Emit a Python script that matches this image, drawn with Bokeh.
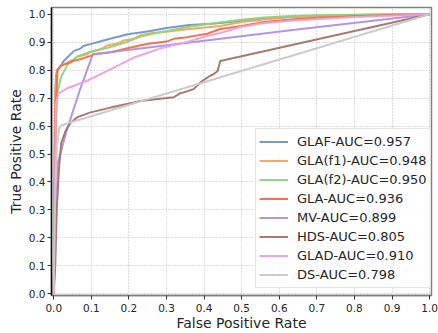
from bokeh.plotting import figure
from bokeh.models import Range1d, FixedTicker, Legend, LegendItem
from bokeh.embed import file_html
from bokeh.resources import INLINE

# ---- data ----
names = ["GLAF-AUC=0.957", "GLA(f1)-AUC=0.948", "GLA(f2)-AUC=0.950", "GLA-AUC=0.936",
         "MV-AUC=0.899", "HDS-AUC=0.805", "GLAD-AUC=0.910", "DS-AUC=0.798"]

fpr_glaf = [0, 0.002, 0.004, 0.006, 0.01, 0.018, 0.027, 0.036, 0.054, 0.072, 0.08, 0.10, 0.125,
            0.16, 0.2, 0.231, 0.257, 0.3, 0.36, 0.43, 0.5, 0.55, 0.63, 0.7, 0.8, 0.9, 1.0]
tpr_glaf = [0, 0.45, 0.7, 0.78, 0.80, 0.815, 0.833, 0.845, 0.869, 0.878, 0.887, 0.894, 0.903,
            0.916, 0.929, 0.935, 0.94, 0.951, 0.961, 0.967, 0.977, 0.982, 0.99, 0.994, 0.997, 0.999, 1.0]

fpr_f1 = [0, 0.002, 0.004, 0.008, 0.014, 0.019, 0.036, 0.054, 0.063, 0.089, 0.098, 0.125, 0.142,
          0.169, 0.186, 0.213, 0.231, 0.257, 0.3, 0.355, 0.408, 0.443, 0.5, 0.62, 0.8, 1.0]
tpr_f1 = [0, 0.5, 0.72, 0.8, 0.809, 0.815, 0.827, 0.839, 0.848, 0.857, 0.865, 0.875, 0.888,
          0.895, 0.906, 0.912, 0.925, 0.932, 0.937, 0.946, 0.953, 0.958, 0.972, 0.99, 0.997, 1.0]

fpr_f2 = [0, 0.003, 0.006, 0.01, 0.019, 0.036, 0.063, 0.098, 0.142, 0.186, 0.231, 0.257, 0.3,
          0.36, 0.44, 0.5, 0.56, 0.63, 0.7, 0.8, 1.0]
tpr_f2 = [0, 0.4, 0.62, 0.72, 0.774, 0.818, 0.849, 0.866, 0.879, 0.897, 0.92, 0.928, 0.94,
          0.955, 0.97, 0.98, 0.988, 0.994, 0.996, 0.998, 1.0]

fpr_gla = [0, 0.002, 0.005, 0.01, 0.019, 0.036, 0.054, 0.072, 0.098, 0.107, 0.142, 0.151, 0.196,
           0.231, 0.257, 0.3, 0.319, 0.355, 0.408, 0.443, 0.5, 0.56, 0.63, 0.7, 0.8, 0.9, 1.0]
tpr_gla = [0, 0.35, 0.65, 0.80, 0.815, 0.824, 0.833, 0.84, 0.851, 0.857, 0.862, 0.864, 0.878,
           0.889, 0.895, 0.902, 0.912, 0.918, 0.93, 0.947, 0.958, 0.972, 0.981, 0.987, 0.993, 0.997, 1.0]

fpr_mv = [0, 0.005, 0.009, 0.036, 0.071, 0.104, 0.63, 1.0]
tpr_mv = [0, 0.3, 0.46, 0.59, 0.735, 0.857, 0.943, 1.0]

fpr_hds = [0, 0.004, 0.008, 0.014, 0.02, 0.032, 0.045, 0.063, 0.098, 0.151, 0.213, 0.231, 0.30,
           0.319, 0.337, 0.345, 0.372, 0.386, 0.39, 0.416, 0.425, 0.436, 0.443, 1.0]
tpr_hds = [0, 0.1, 0.3, 0.45, 0.54, 0.585, 0.612, 0.632, 0.649, 0.666, 0.684, 0.69, 0.70,
           0.703, 0.718, 0.72, 0.732, 0.75, 0.756, 0.78, 0.785, 0.797, 0.833, 1.0]

fpr_glad = [0, 0.003, 0.006, 0.012, 0.019, 0.036, 0.054, 0.089, 0.125, 0.169, 0.213, 0.257, 0.284,
            0.30, 0.355, 0.408, 0.443, 0.5, 0.557, 0.63, 0.8, 1.0]
tpr_glad = [0, 0.4, 0.68, 0.715, 0.722, 0.735, 0.744, 0.762, 0.786, 0.815, 0.845, 0.865, 0.878,
            0.883, 0.901, 0.922, 0.933, 0.955, 0.968, 0.977, 0.99, 1.0]

fpr_ds = [0, 0.003, 0.008, 0.014, 0.02, 1.0]
tpr_ds = [0, 0.3, 0.52, 0.59, 0.603, 1.0]

tick_values = [0.0, 0.1, 0.2, 0.3, 0.4, 0.5, 0.6, 0.7, 0.8, 0.9, 1.0]
tick_labels = ["0.0", "0.1", "0.2", "0.3", "0.4", "0.5", "0.6", "0.7", "0.8", "0.9", "1.0"]

colors = ["#6a97cc", "#f7a35c", "#8fd37a", "#ef6c4a", "#b18fe0", "#a37268", "#ef9fd8", "#c9c9c9"]

series = [(fpr_glaf, tpr_glaf), (fpr_f1, tpr_f1), (fpr_f2, tpr_f2), (fpr_gla, tpr_gla),
          (fpr_mv, tpr_mv), (fpr_hds, tpr_hds), (fpr_glad, tpr_glad), (fpr_ds, tpr_ds)]

FONT = "DejaVu Sans"
TXT = "#262626"

p = figure(width=438, height=333, output_backend="svg", toolbar_location=None,
           x_range=Range1d(-0.006, 1.005), y_range=Range1d(-0.006, 1.024),
           min_border_left=51, min_border_right=7, min_border_top=7, min_border_bottom=38)
p.background_fill_color = "white"
p.border_fill_color = "white"
p.outline_line_color = "#808080"
p.outline_line_width = 1.5

items = []
for (fx, ty), c, n in zip(series, colors, names):
    r = p.line(fx, ty, line_color=c, line_width=2, line_alpha=0.95)
    items.append(LegendItem(label=n, renderers=[r]))

for ax in (p.xaxis[0], p.yaxis[0]):
    ax.ticker = FixedTicker(ticks=tick_values)
    ax.major_label_overrides = {v: s for v, s in zip(tick_values, tick_labels)}
    ax.minor_tick_line_color = None
    ax.major_tick_out = 4
    ax.major_tick_in = 0
    ax.major_tick_line_color = "#333333"
    ax.major_label_standoff = 2
    ax.major_label_text_font = FONT
    ax.major_label_text_font_size = "10.5px"
    ax.major_label_text_color = TXT
    ax.axis_label_text_font = FONT
    ax.axis_label_text_font_size = "14px"
    ax.axis_label_text_font_style = "normal"
    ax.axis_label_text_color = TXT
    ax.axis_label_standoff = 2

p.xaxis.major_label_standoff = 4
p.xaxis.axis_label_standoff = 0

p.xaxis.axis_label = "False Positive Rate"
p.yaxis.axis_label = "True Positive Rate"
p.yaxis.axis_line_color = "#111111"
p.yaxis.axis_line_width = 1.5
p.xaxis.axis_line_color = "#808080"
p.xaxis.axis_line_width = 1.5

p.xgrid.ticker = FixedTicker(ticks=tick_values)
p.ygrid.ticker = FixedTicker(ticks=tick_values)
for g in (p.xgrid, p.ygrid):
    g.grid_line_color = "#bbbbbb"
    g.grid_line_dash = "1 2"
    g.grid_line_width = 1

legend = Legend(items=items, location=(204, 7))
legend.label_text_font = FONT
legend.label_text_font_size = "13px"
legend.label_text_color = TXT
legend.label_height = 19
legend.glyph_height = 19
legend.glyph_width = 29
legend.label_standoff = 9
legend.spacing = 0
legend.padding = 3
legend.margin = 0
legend.border_line_color = "#cccccc"
legend.border_line_width = 1
legend.background_fill_color = "white"
legend.background_fill_alpha = 0.85
p.add_layout(legend, "center")

open("out.html", "w").write(file_html(p, INLINE))
